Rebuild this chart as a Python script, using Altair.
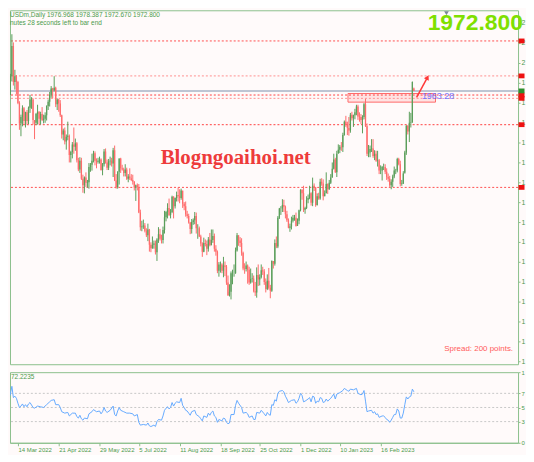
import altair as alt
import pandas as pd

# ---------------- data ----------------
first_open = 1908
closes = [1943,1928,1936,1966,1998,2050,1988,1998,1988,1952,
 1917,1928,1943,1921,1936,1921,1944,1958,1958,1923,
 1918,1933,1937,1925,1933,1923,1925,1931,1947,1954,
 1966,1977,1974,1978,1950,1958,1951,1931,1898,1905,
 1886,1894,1896,1863,1868,1881,1877,1883,1854,1838,
 1853,1822,1811,1824,1815,1816,1842,1846,1853,1866,
 1853,1851,1853,1855,1837,1847,1869,1850,1841,1852,
 1853,1848,1871,1819,1808,1834,1857,1840,1838,1832,
 1838,1822,1826,1823,1820,1817,1807,1811,1808,1764,
 1739,1740,1742,1733,1725,1735,1709,1703,1709,1711,
 1696,1718,1727,1719,1717,1734,1756,1765,1772,1760,
 1765,1791,1775,1789,1794,1792,1789,1802,1779,1775,
 1761,1758,1747,1736,1748,1751,1758,1737,1737,1723,
 1711,1697,1712,1710,1702,1718,1708,1717,1724,1702,
 1697,1664,1675,1675,1664,1673,1671,1644,1622,1628,
 1660,1660,1660,1699,1725,1716,1712,1695,1668,1667,
 1673,1666,1644,1650,1651,1629,1627,1657,1649,1653,
 1665,1663,1645,1633,1647,1635,1630,1681,1676,1712,
 1706,1755,1771,1771,1777,1774,1761,1751,1738,1740,
 1750,1755,1755,1741,1750,1768,1803,1797,1769,1772,
 1786,1789,1797,1781,1810,1807,1777,1792,1788,1817,
 1814,1792,1797,1813,1804,1815,1824,1839,1855,1833,
 1865,1872,1877,1876,1897,1920,1916,1909,1905,1932,
 1926,1931,1936,1946,1929,1928,1923,1928,1950,1912,
 1865,1867,1873,1874,1861,1865,1853,1854,1836,1836,
 1842,1842,1834,1825,1822,1811,1817,1826,1836,1836,
 1856,1847,1813,1814,1831,1867,1913,1903,1918,1919,
 1988]
highs = [1950,1950,1940,1970,2002,2070,2056,2009,2000,1990,
 1955,1932,1948,1945,1937,1940,1946,1966,1962,1960,
 1922,1935,1949,1938,1937,1945,1932,1936,1948,1958,
 1971,1981,1978,1998,1980,1960,1959,1957,1932,1908,
 1910,1898,1920,1898,1870,1885,1910,1891,1885,1858,
 1859,1858,1829,1826,1833,1820,1849,1849,1865,1870,
 1869,1857,1858,1860,1857,1849,1873,1874,1855,1856,
 1860,1858,1875,1879,1830,1835,1857,1858,1846,1841,
 1847,1841,1830,1840,1830,1829,1818,1812,1814,1813,
 1769,1750,1752,1746,1737,1745,1736,1713,1723,1716,
 1716,1720,1739,1736,1726,1740,1767,1767,1780,1788,
 1770,1793,1792,1790,1800,1807,1804,1805,1801,1782,
 1783,1767,1762,1748,1753,1754,1765,1764,1744,1740,
 1726,1713,1721,1718,1716,1722,1729,1735,1735,1728,
 1708,1699,1679,1680,1677,1688,1680,1674,1656,1641,
 1663,1666,1675,1704,1729,1725,1722,1720,1697,1677,
 1680,1675,1671,1668,1660,1656,1645,1670,1675,1658,
 1675,1671,1667,1651,1658,1669,1640,1682,1680,1718,
 1723,1758,1772,1775,1787,1786,1776,1767,1754,1745,
 1757,1760,1760,1764,1754,1769,1804,1804,1810,1774,
 1792,1795,1810,1799,1824,1814,1808,1797,1798,1822,
 1823,1821,1802,1833,1814,1820,1830,1850,1865,1858,
 1870,1881,1880,1885,1901,1922,1930,1920,1928,1935,
 1937,1932,1942,1949,1949,1936,1933,1931,1952,1959,
 1917,1880,1879,1890,1890,1871,1870,1870,1856,1845,
 1844,1848,1847,1840,1831,1827,1821,1829,1843,1839,
 1858,1858,1853,1820,1835,1870,1914,1914,1937,1935,
 1989]
lows = [1900,1920,1915,1931,1966,1989,1982,1975,1967,1950,
 1906,1895,1912,1916,1910,1915,1916,1935,1942,1915,
 1890,1914,1915,1916,1915,1921,1917,1918,1922,1940,
 1946,1961,1960,1972,1945,1940,1937,1928,1891,1888,
 1881,1872,1888,1850,1850,1857,1865,1870,1850,1835,
 1832,1820,1798,1797,1808,1807,1805,1834,1836,1850,
 1845,1840,1848,1848,1836,1828,1843,1848,1837,1837,
 1845,1843,1825,1818,1805,1805,1812,1832,1836,1826,
 1826,1820,1816,1820,1818,1812,1802,1784,1802,1763,
 1733,1732,1736,1730,1722,1715,1697,1696,1702,1702,
 1692,1681,1712,1716,1711,1711,1728,1749,1754,1758,
 1754,1763,1754,1771,1783,1783,1780,1786,1772,1768,
 1757,1754,1745,1727,1728,1743,1744,1728,1719,1722,
 1706,1688,1696,1706,1691,1697,1706,1708,1712,1697,
 1690,1660,1654,1661,1660,1653,1655,1640,1621,1620,
 1615,1641,1654,1659,1697,1707,1705,1690,1665,1659,
 1663,1642,1640,1642,1644,1627,1621,1618,1638,1639,
 1651,1657,1640,1627,1631,1632,1617,1628,1668,1673,
 1703,1703,1753,1760,1765,1765,1754,1748,1737,1731,
 1735,1747,1750,1740,1741,1744,1766,1786,1765,1762,
 1770,1780,1787,1776,1775,1801,1774,1776,1786,1786,
 1810,1785,1792,1797,1796,1803,1813,1824,1838,1832,
 1825,1866,1866,1870,1868,1896,1911,1897,1896,1901,
 1922,1911,1924,1931,1923,1920,1916,1900,1924,1911,
 1861,1859,1859,1868,1858,1854,1851,1843,1830,1830,
 1819,1837,1830,1820,1817,1808,1804,1808,1823,1830,
 1833,1845,1809,1810,1813,1833,1863,1898,1885,1910,
 1918]
cur_bar = [1976.968, 1978.387, 1972.670, 1972.800]  # O H L C of the live bar

rsi_bar = [0,2,3,4,5,6,7,8,9,10,11,12,13,14,15,16,17,19,20,22,24,26,28,30,31,33,34,36,37,38,
 40,42,43,45,47,48,49,50,51,52,53,55,56,58,59,61,63,64,65,66,67,68,70,72,73,74,75,76,77,79,
 81,83,85,86,88,89,90,92,94,95,96,97,99,100,101,102,104,105,106,107,108,109,110,111,112,113,114,116,117,118,
 119,120,121,122,123,124,126,127,129,130,131,132,134,135,136,137,138,139,140,141,142,144,145,146,147,148,149,150,152,153,
 154,155,157,158,160,161,162,164,165,166,167,169,170,172,173,174,175,176,177,178,179,180,181,182,184,185,186,187,188,190,
 192,193,194,195,196,197,198,199,201,202,203,204,205,206,207,208,209,210,211,212,213,214,216,217,218,219,220,222,224,225,
 227,228,229,231,233,234,236,237,238,239,240,241,243,244,245,246,247,248,250,251,252,253,254,255,256,257,258,259,260,261,
 262,263,264,265,266,267,268,269,270,271]
rsi_value = [60,57,63,69,80,64,66,63,56,50,52,55,51,54,51,55,57,50,49,52,51,50,54,58,60,61,54,54,50,44,
 42,43,38,42,42,37,35,39,34,32,35,34,41,44,47,44,45,41,44,50,45,43,46,52,40,38,45,50,46,44,
 42,42,41,38,40,29,25,26,25,28,24,23,25,23,30,33,32,38,46,49,51,48,50,57,52,56,58,57,63,53,
 50,46,45,42,39,44,46,40,37,34,31,38,36,42,39,43,45,38,36,29,33,31,35,34,29,27,28,40,40,53,
 60,56,50,42,43,41,36,38,33,33,43,42,46,41,38,43,40,39,54,53,61,59,70,73,74,72,66,62,57,60,
 61,56,58,63,70,67,58,59,62,64,58,66,65,56,59,58,64,63,57,58,62,59,63,66,69,62,69,71,74,77,
 74,73,76,75,77,70,68,69,74,59,44,45,46,42,44,40,41,36,38,38,36,33,32,29,32,36,40,40,48,45,
 35,35,42,54,65,62,65,66,76,72.2]

price_ticks = [2089.7, 2055.5, 2021.3, 1987.1, 1952.9, 1918.7, 1884.5, 1850.3, 1816.1,
               1781.9, 1747.7, 1713.5, 1679.3, 1645.1, 1610.9, 1576.7, 1542.5, 1508.3]
level_prices = [2058.5, 1998.5, 1965.7, 1960.0, 1914.8, 1807.2]
level_colors = ["#ff5050", "#ff8f8f", "#ff4040", "#ff8f8f", "#ff4040", "#ff5050"]
bid_price = 1972.8
x_tick_bars = [9, 36, 63, 89, 116, 143, 169, 196, 222, 249]
x_labels = ["14 Mar 2022", "21 Apr 2022", "29 May 2022", "5 Jul 2022", "11 Aug 2022",
            "18 Sep 2022", "25 Oct 2022", "1 Dec 2022", "10 Jan 2023", "16 Feb 2023"]
rsi_levels = [70, 50, 30]
rsi_ticks = [0, 30, 50, 70, 100]
zone = {"x1": [227.4], "x2": [285.3], "y1": [1968.3], "y2": [1953.5]}
arrow = {"x1": [272.8], "x2": [280.0], "y1": [1961.6], "y2": [1996.0]}
tag = {"x": [276.3], "y": [1964.5], "t": ["1963:28"]}

# ---------------- styling ----------------
BG = "#fffafa"
UP = "#5a9e5a"
DOWN = "#ff6b6b"
GREEN_TXT = "#4c9a4c"
AXIS = "#8cbf8c"
W = 511
H_MAIN = 356
H_RSI = 71

n = len(closes)
opens = [first_open] + closes[:-1]
bars = pd.DataFrame({
    "i": list(range(n)) + [n],
    "open": opens + [cur_bar[0]],
    "high": highs + [cur_bar[1]],
    "low": lows + [cur_bar[2]],
    "close": closes + [cur_bar[3]],
})
bars["dir"] = ["up" if c >= o else "down" for o, c in zip(bars["open"], bars["close"])]

xs = alt.Scale(domain=[3.75, 339.93], nice=False, zero=False)
ys = alt.Scale(domain=[1503.8, 2111.1], nice=False, zero=False)
cs = alt.Scale(domain=["up", "down"], range=[UP, DOWN])

yaxis = alt.Axis(orient="right", values=price_ticks, labelExpr="substring(datum.label, 0, 1)",
                 tickSize=2, labelPadding=1, labelFontSize=7, labelColor=GREEN_TXT,
                 tickColor=AXIS, domain=False, grid=False, title=None,
                 labelOverlap=False, labelFlush=False)


def PY(field):
    return alt.Y(field, scale=ys, axis=yaxis)


def PX(field):
    return alt.X(field, scale=xs, axis=None)


zone_l = alt.Chart(pd.DataFrame(zone)).mark_rect(
    fill="#ffb0b0", fillOpacity=0.3, stroke="#ff6b6b", strokeWidth=1).encode(
    x=PX("x1:Q"), x2="x2:Q", y=PY("y1:Q"), y2="y2:Q")

lv_df = pd.DataFrame({"p": level_prices, "c": level_colors})
levels = alt.Chart(lv_df).mark_rule(strokeDash=[2, 2], strokeWidth=1).encode(
    y=PY("p:Q"), color=alt.Color("c:N", scale=None))

bid = alt.Chart(pd.DataFrame({"p": [bid_price]})).mark_rule(
    color="#a9b3c6", strokeWidth=1.5).encode(y=PY("p:Q"))

wick = alt.Chart(bars).mark_rule(strokeWidth=1, clip=True).encode(
    x=PX("i:Q"), y=PY("low:Q"), y2="high:Q",
    color=alt.Color("dir:N", scale=cs, legend=None))

body = alt.Chart(bars).mark_rule(strokeWidth=1.3, clip=True).encode(
    x=PX("i:Q"), y=PY("open:Q"), y2="close:Q",
    color=alt.Color("dir:N", scale=cs, legend=None))

ar_df = pd.DataFrame(arrow)
arrow_l = alt.Chart(ar_df).mark_rule(color="#ff3838", strokeWidth=1.5).encode(
    x=PX("x1:Q"), x2="x2:Q", y=PY("y1:Q"), y2="y2:Q")
head = alt.Chart(ar_df).mark_point(shape="triangle-up", angle=28, size=30, filled=True,
                                   opacity=1, color="#ff3838").encode(
    x=PX("x2:Q"), y=PY("y2:Q"))

tag_df = pd.DataFrame(tag)
tag_l = alt.Chart(tag_df).mark_text(align="left", baseline="middle", fontSize=9,
                                    color="#7575ff").encode(
    x=PX("x:Q"), y=PY("y:Q"), text="t:N")

box_df = pd.DataFrame({"p": level_prices + [bid_price],
                       "c": ["#ee1111"] * len(level_prices) + ["#2f8f2f"]})
boxes = alt.Chart(box_df).mark_point(shape="M-1,-0.8L1,-0.8L1,0.8L-1,0.8Z", size=36,
                                     filled=True, opacity=1).encode(
    x=alt.value(514.5), y=PY("p:Q"), color=alt.Color("c:N", scale=None))


def label(text, x, y, **kw):
    return alt.Chart(pd.DataFrame({"t": [text]})).mark_text(**kw).encode(
        x=alt.value(x), y=alt.value(y), text="t:N")


head1 = label("USDm,Daily  1976.968 1978.387 1972.670 1972.800", 0, 4.8,
              align="left", baseline="middle", fontSize=6.5, color=GREEN_TXT)
head2 = label("nutes 28 seconds left to bar end", 0, 12.5,
              align="left", baseline="middle", fontSize=6.5, color=GREEN_TXT)
big = label("1972.800", 516, 13.3, align="right", baseline="middle", fontSize=23,
            fontWeight="bold", color="#7fe000")
spread = label("Spread: 200 points.", 506, 341, align="right", baseline="middle",
               fontSize=8, color="#ff5a5a")
wm = label("Blogngoaihoi.net", 227, 149, align="center", baseline="middle",
           fontSize=21, fontWeight="bold", font="Liberation Serif", color="#ee3b3b")
shift = alt.Chart(pd.DataFrame({"a": [0]})).mark_point(
    shape="triangle-down", size=22, filled=True, opacity=1, color="#7b8796").encode(
    x=alt.value(439), y=alt.value(3))

main = alt.layer(zone_l, levels, bid, wick, body, arrow_l, head, tag_l, boxes,
                 head1, head2, big, spread, wm, shift).properties(
    width=W, height=H_MAIN)

# ---------------- RSI panel ----------------
x_label_expr = ("[" + ",".join("'" + s + "'" for s in x_labels) + "][indexof(["
                + ",".join(str(v) for v in x_tick_bars) + "], datum.value)]")
xaxis = alt.Axis(orient="bottom", values=x_tick_bars, labelExpr=x_label_expr,
                 tickSize=3, labelPadding=1, labelFontSize=6, labelAlign="left",
                 labelBaseline="top", labelColor=GREEN_TXT, tickColor=AXIS,
                 domainColor=AXIS, grid=False, title=None, labelOverlap=False,
                 labelFlush=False)
rs = alt.Scale(domain=[0, 100], nice=False, zero=False)
raxis = alt.Axis(orient="right", values=rsi_ticks, labelExpr="substring(datum.label, 0, 1)",
                 tickSize=2, labelPadding=1, labelFontSize=6, labelColor=GREEN_TXT,
                 tickColor=AXIS, domain=False, grid=False, title=None,
                 labelOverlap=False, labelFlush=False)

rsi_df = pd.DataFrame({"i": rsi_bar, "v": rsi_value})
rsi_grid = alt.Chart(pd.DataFrame({"v": rsi_levels})).mark_rule(
    strokeDash=[2, 2], color="#c8c8c8", strokeWidth=1).encode(
    y=alt.Y("v:Q", scale=rs, axis=raxis))
rsi_line = alt.Chart(rsi_df).mark_line(color="#66aaff", strokeWidth=1, clip=True).encode(
    x=alt.X("i:Q", scale=xs, axis=xaxis), y=alt.Y("v:Q", scale=rs, axis=raxis))
rsi_lbl = label("72.2235", 1, 5, align="left", baseline="middle", fontSize=6.5,
                color=GREEN_TXT)

rsi = alt.layer(rsi_grid, rsi_line, rsi_lbl).properties(width=W, height=H_RSI)

chart = alt.vconcat(main, rsi, spacing=3).properties(padding=0).configure(
    background=BG, font="Liberation Sans").configure_view(stroke=AXIS, strokeWidth=1)

chart.save("out.html", embed_options={"renderer": "svg", "actions": False})
